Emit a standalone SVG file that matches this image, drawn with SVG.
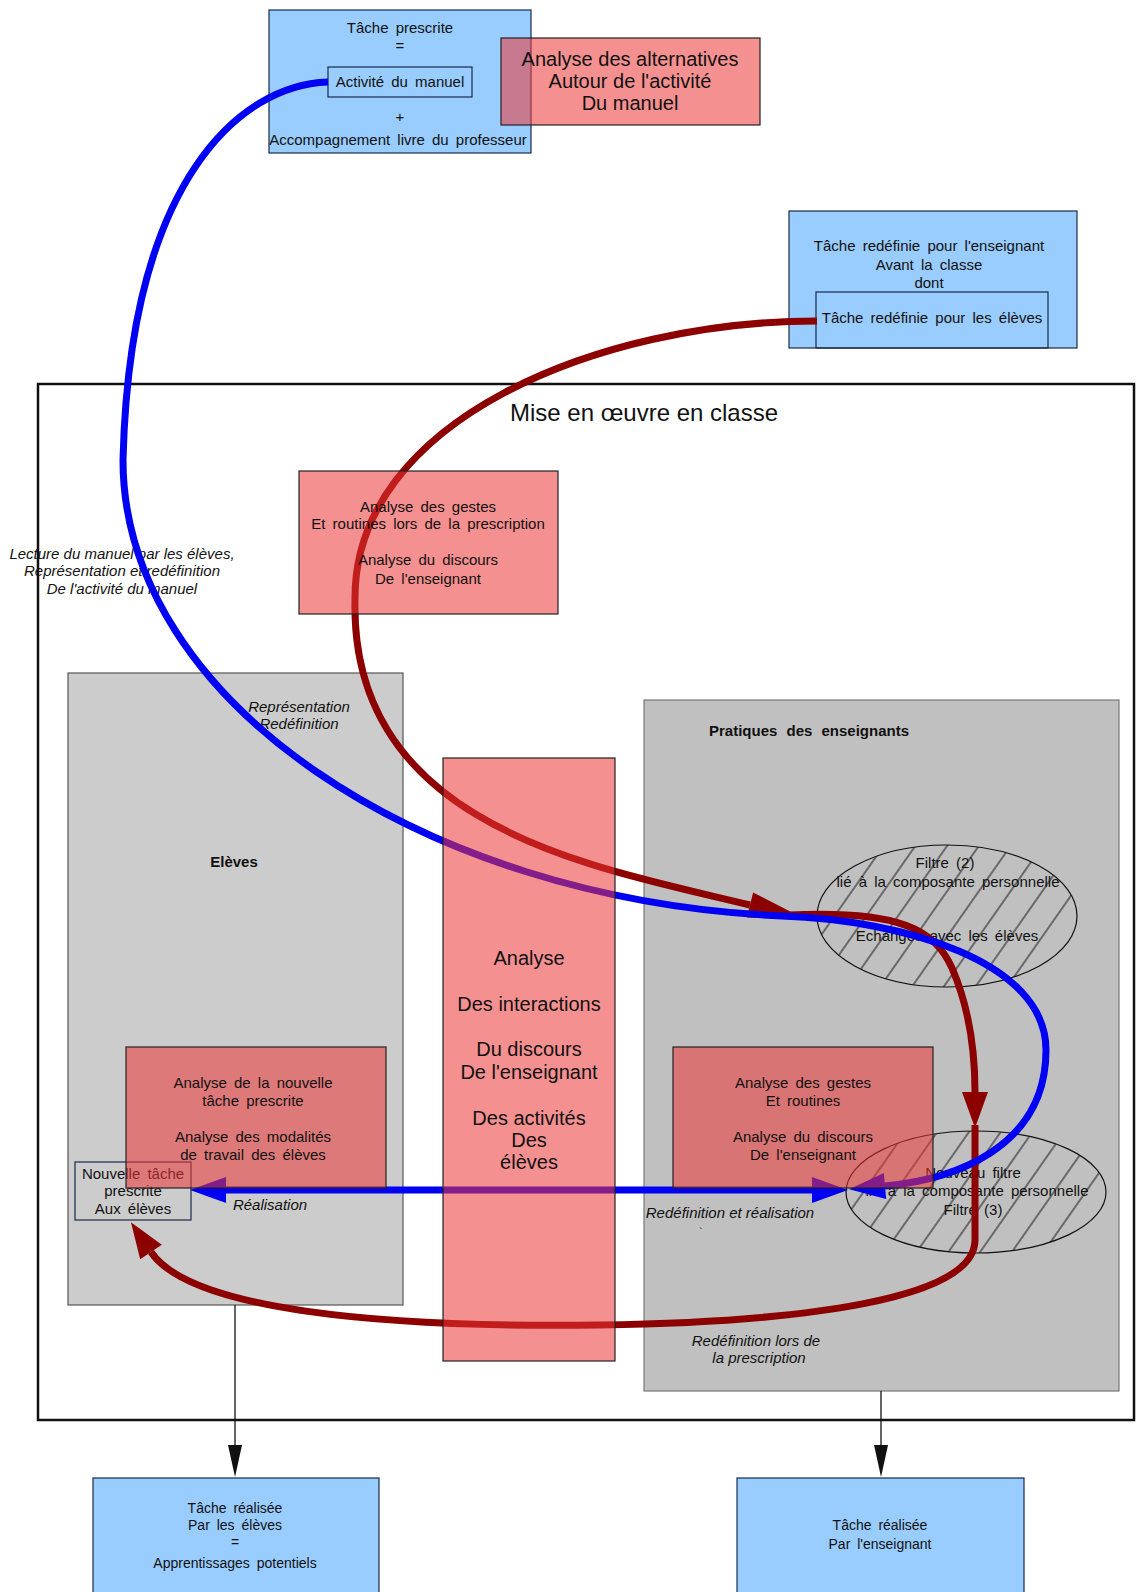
<svg xmlns="http://www.w3.org/2000/svg" width="1136" height="1592" viewBox="0 0 1136 1592">
<style>
text{font-family:"Liberation Sans",Arial,sans-serif;font-size:15px;fill:#111;text-anchor:middle;word-spacing:3px}
.it{font-style:italic;word-spacing:0}
.b{font-weight:bold;word-spacing:5px}
.big{font-size:20px;word-spacing:0}
.title{font-size:24px;word-spacing:0}
.sm{font-size:14px}
.blue{fill:#99ccff;stroke:#1a2a4a;stroke-width:1.2}
.red{fill:rgb(237,53,53);fill-opacity:0.55;stroke:#222;stroke-width:1.2}
.g1{fill:#cccccc;stroke:#555;stroke-width:1.2}
.g2{fill:#c0c0c0;stroke:#777;stroke-width:1.2}
.box{fill:none;stroke:#1a2a4a;stroke-width:1.2}
.ell{fill:url(#hatch);stroke:#111;stroke-width:1.2}
.bl{fill:none;stroke:#0000f2;stroke-width:7}
.rd{fill:none;stroke:#8c0000;stroke-width:7}
.thin{fill:none;stroke:#111;stroke-width:1.3}
</style>
<defs>
<pattern id="hatch" patternUnits="userSpaceOnUse" width="26" height="10" patternTransform="rotate(35)">
<line x1="13" y1="0" x2="13" y2="10" stroke="#111" stroke-width="1"/>
</pattern>
<marker id="mb" markerUnits="userSpaceOnUse" markerWidth="40" markerHeight="28" refX="0" refY="13" orient="auto-start-reverse" overflow="visible">
<path d="M0,0 L36,13 L0,26 z" fill="#0000f2"/>
</marker>
<marker id="mr" markerUnits="userSpaceOnUse" markerWidth="40" markerHeight="28" refX="0" refY="13" orient="auto" overflow="visible">
<path d="M0,0 L36,13 L0,26 z" fill="#8c0000"/>
</marker>
<marker id="mrl" markerUnits="userSpaceOnUse" markerWidth="58" markerHeight="28" refX="0" refY="13" orient="auto" overflow="visible">
<path d="M0,0 L55,13 L0,26 z" fill="#8c0000"/>
</marker>
<marker id="mk" markerUnits="userSpaceOnUse" markerWidth="32" markerHeight="16" refX="0" refY="7" orient="auto" overflow="visible">
<path d="M0,0 L32,7 L0,14 z" fill="#111"/>
</marker>
</defs>
<rect x="0" y="0" width="1136" height="1592" fill="#fff"/>

<g id="frame">
<rect x="38" y="384" width="1096" height="1036" fill="none" stroke="#111" stroke-width="2.5"/>
<text class="title" x="644" y="421">Mise en œuvre en classe</text>
</g>

<g id="tache-prescrite">
<rect class="blue" x="269" y="10" width="262" height="143"/>
<text x="400" y="33">Tâche prescrite</text>
<text x="400" y="51">=</text>
<rect class="box" x="328" y="67" width="144" height="30"/>
<text x="400" y="87">Activité du manuel</text>
<text x="400" y="122">+</text>
<text x="398" y="145">Accompagnement livre du professeur</text>
</g>

<g id="tache-redefinie">
<rect class="blue" x="789" y="211" width="288" height="137"/>
<text x="929" y="251">Tâche redéfinie pour l'enseignant</text>
<text x="929" y="270">Avant la classe</text>
<text x="929" y="288">dont</text>
<rect class="box" x="816" y="292" width="232" height="56"/>
<text x="932" y="323">Tâche redéfinie pour les élèves</text>
</g>

<g id="eleves">
<rect class="g1" x="68" y="673" width="335" height="632"/>
<text class="it" x="299" y="712">Représentation</text>
<text class="it" x="299" y="729">Redéfinition</text>
<text class="b" x="234" y="867">Elèves</text>
</g>

<g id="pratiques">
<rect class="g2" x="644" y="700" width="475" height="691"/>
<text class="b" x="809" y="736">Pratiques des enseignants</text>
</g>

<g id="nouvelle-tache">
<rect class="box" x="75" y="1162" width="116" height="58" stroke="#111"/>
<text x="133" y="1179">Nouvelle tâche</text>
<text x="133" y="1196">prescrite</text>
<text x="133" y="1214">Aux élèves</text>
</g>

<g id="filtre2">
<text x="945" y="868">Filtre (2)</text>
<text x="948" y="887">lié à la composante personnelle</text>
<text x="947" y="941">Echanges avec les élèves</text>
<ellipse class="ell" cx="947" cy="916" rx="130" ry="71"/>
</g>

<g id="filtre3">
<text x="973" y="1178">Nouveau filtre</text>
<text x="977" y="1196">lié à la composante personnelle</text>
<text x="973" y="1215">Filtre (3)</text>
<ellipse class="ell" cx="976" cy="1192" rx="130" ry="61"/>
</g>

<g id="labels">
<text class="it" x="122" y="559">Lecture du manuel par les élèves,</text>
<text class="it" x="122" y="576">Représentation et redéfinition</text>
<text class="it" x="122" y="594">De l'activité du manuel</text>
<text class="it" x="270" y="1210">Réalisation</text>
<text class="it" x="730" y="1218">Redéfinition et réalisation</text>
<text x="701" y="1236" style="font-size:10px">`</text>
<text class="it" x="756" y="1346">Redéfinition lors de</text>
<text class="it" x="759" y="1363">la prescription</text>
</g>

<g id="connectors">
<path class="rd" d="M817 321 C600 321 353 420 355 600 C350 830 600 868 750 905" marker-end="url(#mrl)"/>
<path class="rd" d="M790 915 C900 910 935 930 952 968 C968 1005 975 1045 975 1092" marker-end="url(#mr)"/>
<path class="rd" d="M975 1125 L975 1240 C975 1300 800 1322 600 1325 C380 1328 190 1310 151 1252" marker-end="url(#mr)"/>
<path class="bl" d="M328 82 C240 85 130 180 123 460 C123 700 420 900 782 916 C900 920 1046 960 1046 1050 C1046 1150 950 1180 885 1186" marker-end="url(#mb)"/>
<path class="bl" d="M226 1190 L812 1190" marker-start="url(#mb)" marker-end="url(#mb)"/>
<path class="thin" d="M235 1305 L235 1445" marker-end="url(#mk)"/>
<path class="thin" d="M881 1391 L881 1445" marker-end="url(#mk)"/>
</g>

<g id="analyse-alternatives">
<rect class="red" x="501" y="38" width="259" height="87"/>
<text class="big" x="630" y="66">Analyse des alternatives</text>
<text class="big" x="630" y="88">Autour de l'activité</text>
<text class="big" x="630" y="110">Du manuel</text>
</g>

<g id="analyse-prescription">
<rect class="red" x="299" y="471" width="259" height="143"/>
<text x="428" y="512">Analyse des gestes</text>
<text x="428" y="529">Et routines lors de la prescription</text>
<text x="428" y="565">Analyse du discours</text>
<text x="428" y="584">De l'enseignant</text>
</g>

<g id="analyse-interactions">
<rect class="red" x="443" y="758" width="172" height="603"/>
<text class="big" x="529" y="965">Analyse</text>
<text class="big" x="529" y="1011">Des interactions</text>
<text class="big" x="529" y="1056">Du discours</text>
<text class="big" x="529" y="1079">De l'enseignant</text>
<text class="big" x="529" y="1125">Des activités</text>
<text class="big" x="529" y="1147">Des</text>
<text class="big" x="529" y="1169">élèves</text>
</g>

<g id="analyse-nouvelle-tache">
<rect class="red" x="126" y="1047" width="260" height="141"/>
<text x="253" y="1088">Analyse de la nouvelle</text>
<text x="253" y="1106">tâche prescrite</text>
<text x="253" y="1142">Analyse des modalités</text>
<text x="253" y="1160">de travail des élèves</text>
</g>

<g id="analyse-gestes">
<rect class="red" x="673" y="1047" width="260" height="141"/>
<text x="803" y="1088">Analyse des gestes</text>
<text x="803" y="1106">Et routines</text>
<text x="803" y="1142">Analyse du discours</text>
<text x="803" y="1160">De l'enseignant</text>
</g>

<g id="tache-realisee-eleves">
<rect class="blue" x="93" y="1478" width="286" height="130"/>
<text class="sm" x="235" y="1513">Tâche réalisée</text>
<text class="sm" x="235" y="1530">Par les élèves</text>
<text class="sm" x="235" y="1547">=</text>
<text class="sm" x="235" y="1568">Apprentissages potentiels</text>
</g>

<g id="tache-realisee-enseignant">
<rect class="blue" x="737" y="1478" width="287" height="130"/>
<text class="sm" x="880" y="1530">Tâche réalisée</text>
<text class="sm" x="880" y="1549">Par l'enseignant</text>
</g>
</svg>
